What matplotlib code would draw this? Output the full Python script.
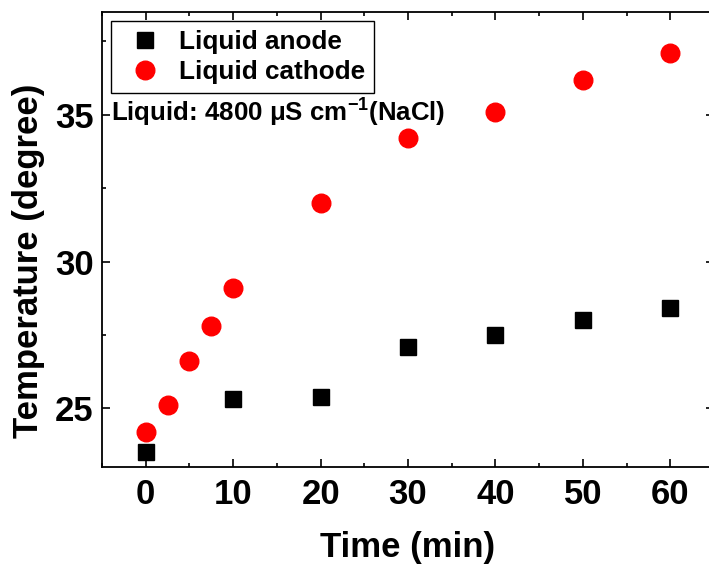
import matplotlib
matplotlib.use("Agg")
import matplotlib.pyplot as plt
from matplotlib.ticker import MultipleLocator

plt.rcParams['font.family'] = ['Liberation Sans', 'DejaVu Sans']
plt.rcParams['font.weight'] = 'bold'
plt.rcParams['mathtext.fontset'] = 'custom'
plt.rcParams['mathtext.rm'] = 'Liberation Sans:bold'
plt.rcParams['mathtext.bf'] = 'Liberation Sans:bold'
plt.rcParams['mathtext.default'] = 'rm'

# Data
anode_time = [0, 10, 20, 30, 40, 50, 60]
anode_temp = [23.5, 25.3, 25.4, 27.1, 27.5, 28.0, 28.4]
cathode_time = [0, 2.5, 5, 7.5, 10, 20, 30, 40, 50, 60]
cathode_temp = [24.2, 25.1, 26.6, 27.8, 29.1, 32.0, 34.2, 35.1, 36.2, 37.1]
xticks = [0, 10, 20, 30, 40, 50, 60]
yticks = [25, 30, 35]

W, H = 709, 567
fig = plt.figure(figsize=(W / 100, H / 100), dpi=100)
L, R, T, B = 102, 714, 12, 467
ax = fig.add_axes([L / W, 1 - B / H, (R - L) / W, (B - T) / H])

ax.plot(anode_time, anode_temp, linestyle='none', marker='s', markersize=11.5,
        color='black', label='Liquid anode')
ax.plot(cathode_time, cathode_temp, linestyle='none', marker='o', markersize=13.4,
        color='red', markeredgecolor='red', label='Liquid cathode')

ax.set_xlim(-5, 65)
ax.set_ylim(23, 38.5)
ax.set_xticks(xticks)
ax.set_yticks(yticks)
ax.xaxis.set_minor_locator(MultipleLocator(5))
ax.yaxis.set_minor_locator(MultipleLocator(2.5))
ax.tick_params(which='both', direction='in', top=True, right=True, width=1.2)
ax.tick_params(which='major', length=5.5)
ax.tick_params(which='minor', length=3)
ax.tick_params(axis='x', which='major', labelsize=25, pad=8)
ax.tick_params(axis='y', which='major', labelsize=25, pad=6)
for sp in ax.spines.values():
    sp.set_linewidth(1.3)

ax.set_xlabel('Time (min)', fontsize=25, fontweight='bold', labelpad=14)
fig.text(29 / W, 1 - 261 / H, 'Temperature (degree)', rotation=90,
         fontsize=25, fontweight='bold', ha='center', va='center')

axw, axh = R - L, B - T
leg = ax.legend(loc='upper left', bbox_to_anchor=(9 / axw, 1 - 9 / axh),
                borderaxespad=0, frameon=True, fancybox=False,
                edgecolor='black', framealpha=1, handlelength=1.9,
                handletextpad=0.35, borderpad=0.35, labelspacing=0.22,
                prop={'weight': 'bold', 'size': 18.8})
leg.get_frame().set_linewidth(1.0)

ax.text(-3.95, 35.05, r'Liquid: 4800 μS cm$^{-1}$(NaCl)', fontsize=18.6,
        fontweight='bold', va='center', ha='left')

fig.savefig('out.png', dpi=100)
